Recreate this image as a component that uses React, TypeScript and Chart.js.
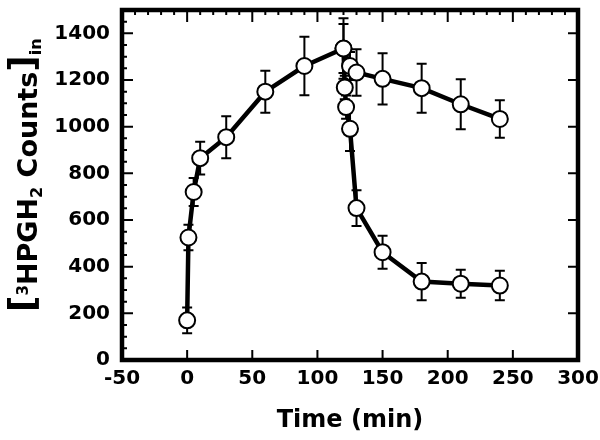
import { useEffect, useRef } from 'react';
import { Chart, registerables } from 'chart.js';

Chart.register(...registerables);

// Series A: uptake continuing (rise, then slow decline)
const timesA = [0, 1, 5, 10, 30, 60, 90, 120, 125, 130, 150, 180, 210, 240];
const countsA = [170, 525, 720, 865, 955, 1150, 1260, 1335, 1260, 1232, 1205, 1165, 1096, 1033];
const errorsA = [55, 55, 60, 70, 90, 90, 125, 130, 60, 100, 110, 105, 107, 80];

// Series B: rapid efflux after 120 min
const timesB = [120, 121, 122, 125, 130, 150, 180, 210, 240];
const countsB = [1335, 1168, 1084, 991, 651, 462, 336, 327, 319];
const errorsB = [105, 50, 50, 95, 77, 71, 80, 60, 63];

const xTickValues = [-50, 0, 50, 100, 150, 200, 250, 300];
const yTickValues = [0, 200, 400, 600, 800, 1000, 1200, 1400];

const FONT = "'DejaVu Sans', 'Liberation Sans', Arial, sans-serif";

const errorBarPlugin = {
  id: 'errorBars',
  beforeDatasetsDraw(chart: any) {
    const ctx = chart.ctx;
    const xs = chart.scales.x;
    const ys = chart.scales.y;
    const sets = [
      { t: timesA, v: countsA, e: errorsA },
      { t: timesB, v: countsB, e: errorsB },
    ];
    ctx.save();
    ctx.strokeStyle = '#000';
    ctx.lineWidth = 2;
    for (const s of sets) {
      s.t.forEach((t, i) => {
        const px = xs.getPixelForValue(t);
        const pTop = ys.getPixelForValue(s.v[i] + s.e[i]);
        const pBot = ys.getPixelForValue(s.v[i] - s.e[i]);
        ctx.beginPath();
        ctx.moveTo(px, pTop);
        ctx.lineTo(px, pBot);
        ctx.moveTo(px - 5, pTop);
        ctx.lineTo(px + 5, pTop);
        ctx.moveTo(px - 5, pBot);
        ctx.lineTo(px + 5, pBot);
        ctx.stroke();
      });
    }
    ctx.restore();
  },
};

const framePlugin = {
  id: 'frameTicks',
  afterDraw(chart: any) {
    const ctx = chart.ctx;
    const xs = chart.scales.x;
    const ys = chart.scales.y;
    const { left, right, top, bottom } = chart.chartArea;
    ctx.save();
    ctx.strokeStyle = '#000';
    ctx.lineWidth = 2;
    ctx.beginPath();
    // x major ticks
    xTickValues.forEach((v) => {
      const px = xs.getPixelForValue(v);
      ctx.moveTo(px, bottom);
      ctx.lineTo(px, bottom - 10);
      ctx.moveTo(px, top);
      ctx.lineTo(px, top + 12);
    });
    // x minor ticks on top
    for (let v = xs.min; v <= xs.max; v += 10) {
      if (v % 50 === 0) continue;
      const px = xs.getPixelForValue(v);
      ctx.moveTo(px, top);
      ctx.lineTo(px, top + 5);
    }
    // y major ticks
    yTickValues.forEach((v) => {
      const py = ys.getPixelForValue(v);
      ctx.moveTo(left, py);
      ctx.lineTo(left + 11, py);
      ctx.moveTo(right, py);
      ctx.lineTo(right - 10, py);
    });
    // y minor ticks on left
    for (let v = ys.min; v <= ys.max; v += 50) {
      if (v % 200 === 0) continue;
      const py = ys.getPixelForValue(v);
      ctx.moveTo(left, py);
      ctx.lineTo(left + 5, py);
    }
    ctx.stroke();
    ctx.lineWidth = 4.5;
    ctx.strokeRect(left, top, right - left, bottom - top);

    // y axis title with super/subscripts
    const segs = [
      { t: '[', size: 36, dy: -3 },
      { t: '3', size: 15, dy: -9 },
      { t: 'HPGH', size: 27, dy: 0 },
      { t: '2', size: 16, dy: 5 },
      { t: ' Counts', size: 27, dy: 0 },
      { t: ']', size: 36, dy: -3 },
      { t: 'in', size: 16, dy: 4 },
    ];
    ctx.translate(37, 312);
    ctx.rotate(-Math.PI / 2);
    ctx.fillStyle = '#000';
    ctx.textBaseline = 'alphabetic';
    ctx.textAlign = 'left';
    let u = 0;
    for (const s of segs) {
      ctx.font = `bold ${s.size}px ${FONT}`;
      ctx.fillText(s.t, u, s.dy);
      u += ctx.measureText(s.t).width;
    }
    ctx.restore();
  },
};

export default function App() {
  const ref = useRef<HTMLCanvasElement | null>(null);
  useEffect(() => {
    document.body.style.margin = '0';
    const canvas = ref.current;
    if (!canvas) return;
    const pointStyle = {
      borderColor: '#000',
      borderWidth: 4.5,
      pointRadius: 8,
      pointBorderWidth: 2,
      pointBackgroundColor: '#fff',
      pointBorderColor: '#000',
      tension: 0,
      fill: false,
    };
    const chart = new Chart(canvas, {
      type: 'line',
      data: {
        datasets: [
          {
            label: 'continued',
            data: timesA.map((t, i) => ({ x: t, y: countsA[i] })),
            ...pointStyle,
          },
          {
            label: 'efflux',
            data: timesB.map((t, i) => ({ x: t, y: countsB[i] })),
            ...pointStyle,
          },
        ],
      },
      options: {
        animation: false,
        responsive: false,
        events: [],
        layout: { padding: { top: 2.5, right: 22, left: 0, bottom: 0 } },
        plugins: { legend: { display: false }, tooltip: { enabled: false } },
        scales: {
          x: {
            type: 'linear',
            min: -50,
            max: 300,
            afterBuildTicks: (scale: any) => {
              scale.ticks = xTickValues.map((v) => ({ value: v }));
            },
            afterFit: (scale: any) => {
              scale.height = 80;
              scale.paddingLeft = 0;
              scale.paddingRight = 0;
            },
            grid: { display: false, drawTicks: false },
            border: { display: false },
            ticks: {
              padding: 7,
              color: '#000',
              maxRotation: 0,
              autoSkip: false,
              callback: (v: any) => String(v),
              font: { family: FONT, size: 20, weight: 'bold' },
            },
            title: {
              display: true,
              text: 'Time (min)',
              color: '#000',
              padding: { top: 0, bottom: 5 },
              font: { family: FONT, size: 24, weight: 'bold' },
            },
          },
          y: {
            type: 'linear',
            min: 0,
            max: 1500,
            afterBuildTicks: (scale: any) => {
              scale.ticks = yTickValues.map((v) => ({ value: v }));
            },
            afterFit: (scale: any) => {
              scale.width = 122;
              scale.paddingTop = 0;
              scale.paddingBottom = 0;
            },
            grid: { display: false, drawTicks: false },
            border: { display: false },
            ticks: {
              padding: 12,
              color: '#000',
              autoSkip: false,
              callback: (v: any) => String(v),
              font: { family: FONT, size: 20, weight: 'bold' },
            },
          },
        },
      },
      plugins: [errorBarPlugin, framePlugin],
    } as any);
    return () => chart.destroy();
  }, []);
  return (
    <div style={{ width: 600, height: 440 }}>
      <canvas ref={ref} width={600} height={440} />
    </div>
  );
}
